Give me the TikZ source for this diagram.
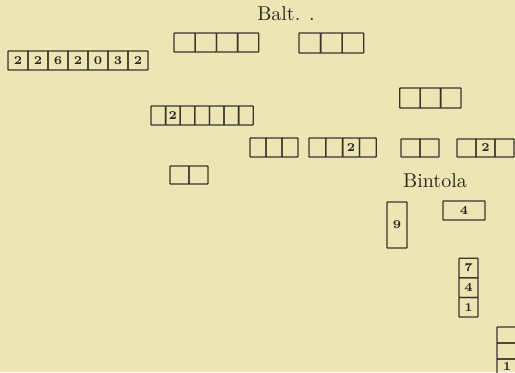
\documentclass[tikz,border=0pt]{standalone}
\usepackage{xcolor}
\usetikzlibrary{positioning}
\definecolor{paperbg}{HTML}{EDE5B4}
\definecolor{inkline}{HTML}{3A342C}
\definecolor{inktext}{HTML}{2A251F}

\begin{document}
\begin{tikzpicture}[
    x=0.5pt, y=-0.5pt,
    cell/.style={
        rectangle, rounded corners=0.3pt, draw=inkline, line width=0.65pt,
        inner sep=0pt, outer sep=0pt, minimum height=9.5pt,
        font=\fontsize{6pt}{7pt}\selectfont\bfseries, text=inktext
    },
    place/.style={
        font=\fontsize{10pt}{12pt}\selectfont, text=inktext, inner sep=0pt
    }
]

% ==================== PAPER ====================
\fill[paperbg] (0,0) rectangle (515,372);
\useasboundingbox (0,0) rectangle (515,372);

% ==================== PLACE NAMES ====================
\node[place] (balt) at (286,14) {Balt. .};
\node[place] (bint) at (435,181) {Bintola};

% ==================== TOP ROWS ====================
\begin{scope}[every node/.style={cell, minimum width=10pt}]
    \node (a1) at (18,60.5) {2};
    \node[right=0pt of a1] (a2) {2};
    \node[right=0pt of a2] (a3) {6};
    \node[right=0pt of a3] (a4) {2};
    \node[right=0pt of a4] (a5) {0};
    \node[right=0pt of a5] (a6) {3};
    \node[right=0pt of a6] (a7) {2};
\end{scope}

\begin{scope}[every node/.style={cell, minimum width=10.6pt}]
    \node (b1) at (184.6,42.5) {};
    \node[right=0pt of b1] (b2) {};
    \node[right=0pt of b2] (b3) {};
    \node[right=0pt of b3] (b4) {};
\end{scope}

\begin{scope}[every node/.style={cell, minimum width=10.8pt, minimum height=10pt}]
    \node (c1) at (309.8,43) {};
    \node[right=0pt of c1] (c2) {};
    \node[right=0pt of c2] (c3) {};
\end{scope}

\begin{scope}[every node/.style={cell, minimum width=10.2pt, minimum height=10pt}]
    \node (d1) at (410,98) {};
    \node[right=0pt of d1] (d2) {};
    \node[right=0pt of d2] (d3) {};
\end{scope}

% ==================== MIDDLE ROWS ====================
\begin{scope}[every node/.style={cell, minimum width=7.3pt}]
    \node (e1) at (158.3,115.5) {};
    \node[right=0pt of e1] (e2) {2};
    \node[right=0pt of e2] (e3) {};
    \node[right=0pt of e3] (e4) {};
    \node[right=0pt of e4] (e5) {};
    \node[right=0pt of e5] (e6) {};
    \node[right=0pt of e6] (e7) {};
\end{scope}

\begin{scope}[every node/.style={cell, minimum width=8pt}]
    \node (f1) at (258,147.5) {};
    \node[right=0pt of f1] (f2) {};
    \node[right=0pt of f2] (f3) {};
\end{scope}

\begin{scope}[every node/.style={cell, minimum width=8.4pt}]
    \node (g1) at (317.4,147.5) {};
    \node[right=0pt of g1] (g2) {};
    \node[right=0pt of g2] (g3) {2};
    \node[right=0pt of g3] (g4) {};
\end{scope}

\begin{scope}[every node/.style={cell, minimum width=9.5pt, minimum height=9pt}]
    \node (h1) at (410.5,148) {};
    \node[right=0pt of h1] (h2) {};
    \node (i1) at (466.5,148) {};
    \node[right=0pt of i1] (i2) {2};
    \node[right=0pt of i2] (i3) {};
    \node (j1) at (179.5,175) {};
    \node[right=0pt of j1] (j2) {};
\end{scope}

% ==================== LOWER BOXES ====================
\node[cell, minimum width=10pt, minimum height=23pt] (k1) at (397,225) {9};
\node[cell, minimum width=21pt] (k2) at (464,210.5) {4};

\begin{scope}[every node/.style={cell, minimum width=9.5pt, minimum height=9.8pt}]
    \node (m1) at (468.5,268) {7};
    \node[below=0pt of m1] (m2) {4};
    \node[below=0pt of m2] (m3) {1};
\end{scope}

\begin{scope}[every node/.style={cell, minimum width=10pt, minimum height=8pt}]
    \node (n1) at (507,335) {};
    \node[below=0pt of n1] (n2) {};
    \node[below=0pt of n2] (n3) {1};
\end{scope}

\end{tikzpicture}
\end{document}
